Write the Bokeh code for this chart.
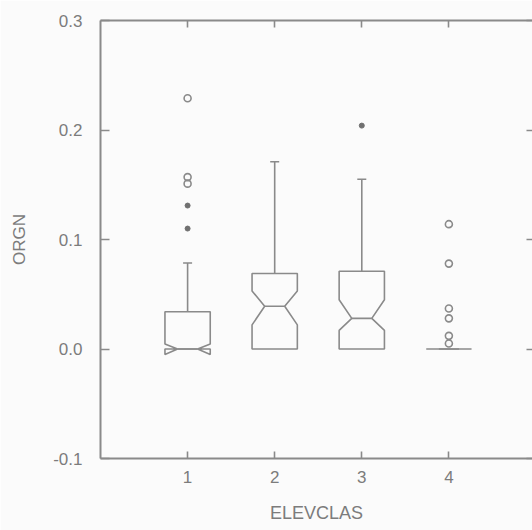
from bokeh.plotting import figure
from bokeh.models import (Range1d, LinearAxis, FixedTicker, PrintfTickFormatter,
                          CustomJSTickFormatter)
from bokeh.embed import file_html
from bokeh.resources import INLINE

# ---- data ----
categories = [1, 2, 3, 4]
q1 = [0.0, 0.0, 0.0, 0.0]
q3 = [0.034, 0.069, 0.071, 0.0]
median = [0.0, 0.039, 0.028, 0.0]
notch_lo = [-0.005, 0.022, 0.017, 0.0]
notch_hi = [0.0045, 0.053, 0.045, 0.0]
whisker_hi = [0.0785, 0.171, 0.155, 0.0]

outside_x = [1, 1, 3]            # asterisk points
outside_y = [0.131, 0.110, 0.204]
far_x = [1, 1, 1, 4, 4, 4, 4, 4, 4]   # open circles
far_y = [0.229, 0.157, 0.151, 0.114, 0.078, 0.037, 0.028, 0.012, 0.005]

x_ticks = [1, 2, 3, 4, 5]
y_ticks = [-0.1, 0.0, 0.1, 0.2, 0.3]

# ---- style ----
LINE = "#8a8a8a"
TEXT = "#7c7c7c"
BG = "#fbfbfb"
FONT = "Liberation Sans"
HALF = 0.26
WAIST = 0.115

xs, ys = [], []
for c, a, b, m, lo, hi in zip(categories, q1, q3, median, notch_lo, notch_hi):
    xs.append([c - HALF, c - HALF, c - WAIST, c - HALF, c - HALF,
               c + HALF, c + HALF, c + WAIST, c + HALF, c + HALF])
    ys.append([b, hi, m, lo, a, a, lo, m, hi, b])

p = figure(width=532, height=530, output_backend="svg", toolbar_location=None,
           x_range=Range1d(0, 4.96), y_range=Range1d(-0.1, 0.3),
           min_border_left=100, min_border_top=20, min_border_right=0, min_border_bottom=72)
p.background_fill_color = BG
p.border_fill_color = BG
p.outline_line_color = None
p.grid.visible = False

p.patches(xs, ys, fill_color=None, line_color=LINE, line_width=1.6)
p.segment(x0=[c - WAIST for c in categories], y0=median,
          x1=[c + WAIST for c in categories], y1=median, line_color=LINE, line_width=1.6)
p.segment(x0=categories, y0=q3, x1=categories, y1=whisker_hi, line_color=LINE, line_width=1.6)
p.scatter(categories[:3], whisker_hi[:3], marker="dash", size=9, line_color=LINE, line_width=1.6)
p.scatter(far_x, far_y, marker="circle", size=7, fill_color=None, line_color=LINE, line_width=1.6)
p.scatter(outside_x, outside_y, marker="circle", size=5, fill_color="#707070", line_color="#707070")

def style(ax):
    ax.axis_line_color = LINE
    ax.axis_line_width = 2
    ax.major_tick_line_color = LINE
    ax.major_tick_line_width = 1.6
    ax.major_tick_out = 0
    ax.minor_tick_line_color = None
    ax.major_label_text_color = TEXT
    ax.major_label_text_font = FONT
    ax.major_label_text_font_size = "17px"
    ax.axis_label_text_color = TEXT
    ax.axis_label_text_font = FONT
    ax.axis_label_text_font_style = "normal"
    ax.axis_label_text_font_size = "17px"

xa = p.xaxis[0]
style(xa)
xa.ticker = FixedTicker(ticks=x_ticks)
xa.major_tick_in = 7
xa.major_label_standoff = 12
xa.axis_label = "ELEVCLAS"
xa.axis_label_text_font_size = "18px"
xa.axis_label_standoff = 17

ya = p.yaxis[0]
style(ya)
ya.ticker = FixedTicker(ticks=y_ticks)
ya.formatter = PrintfTickFormatter(format="%.1f")
ya.major_tick_in = 9
ya.major_label_standoff = 18
ya.axis_label = "ORGN"
ya.axis_label_standoff = 21

blank = CustomJSTickFormatter(code="return ''")

top = LinearAxis(ticker=FixedTicker(ticks=x_ticks), formatter=blank)
style(top)
top.major_tick_in = 7
top.major_label_text_font_size = "1px"
top.major_label_standoff = 0
p.add_layout(top, "above")

right = LinearAxis(ticker=FixedTicker(ticks=y_ticks), formatter=blank)
style(right)
right.axis_line_color = None
right.major_tick_in = 6
right.major_label_text_font_size = "1px"
right.major_label_standoff = 0
p.add_layout(right, "right")

open("out.html", "w").write(file_html(p, INLINE))
